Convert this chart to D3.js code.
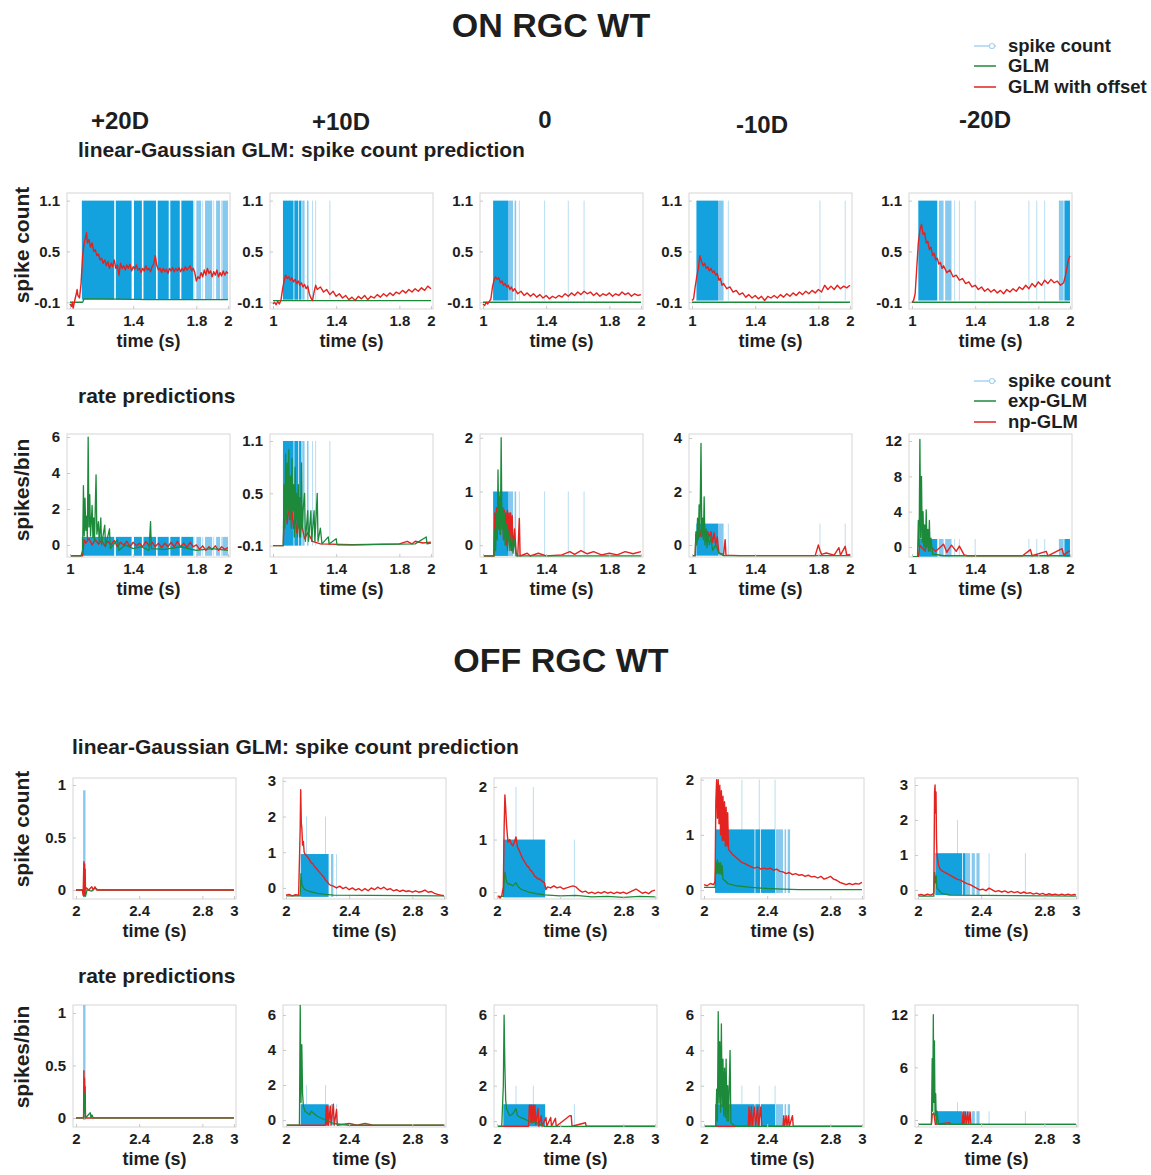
<!DOCTYPE html>
<html>
<head>
<meta charset="utf-8">
<script src="https://cdn.jsdelivr.net/npm/d3@7"></script>
<style>
  body { margin: 0; background: #fff; }
  svg text { font-family: "Liberation Sans", Arial, sans-serif; font-weight: bold; fill: #1e1e1e; }
</style>
</head>
<body>
<svg id="fig" width="1151" height="1175"></svg>
<script>
// ---------- data ----------
const conditions = ["+20D", "+10D", "0", "-10D", "-20D"];
const onXTicks = [1, 1.4, 1.8, 2];
const offXTicks = [2, 2.4, 2.8, 3];

// y extents and ticks per panel
const onCountYDomain = [[-0.18, 1.19], [-0.18, 1.19], [-0.18, 1.19], [-0.18, 1.19], [-0.18, 1.19]];
const onCountYTicks = [[-0.1, 0.5, 1.1], [-0.1, 0.5, 1.1], [-0.1, 0.5, 1.1], [-0.1, 0.5, 1.1], [-0.1, 0.5, 1.1]];
const onRateYDomain = [[-0.67, 6.17], [-0.23, 1.18], [-0.22, 2.07], [-0.45, 4.15], [-1.14, 12.8]];
const onRateYTicks = [[0, 2, 4, 6], [-0.1, 0.5, 1.1], [0, 1, 2], [0, 2, 4], [0, 4, 8, 12]];
const offCountYDomain = [[-0.086, 1.067], [-0.31, 3.08], [-0.13, 2.17], [-0.16, 2.03], [-0.26, 3.2]];
const offCountYTicks = [[0, 0.5, 1], [0, 1, 2, 3], [0, 1, 2], [0, 1, 2], [0, 1, 2, 3]];
const offRateYDomain = [[-0.086, 1.076], [-0.4, 6.57], [-0.34, 6.57], [-0.34, 6.57], [-0.8, 13.1]];
const offRateYTicks = [[0, 0.5, 1], [0, 2, 4, 6], [0, 2, 4, 6], [0, 2, 4, 6], [0, 6, 12]];

// spike count stems: dense runs [t0,t1], lighter runs, single stems, double stems [t,count]
const onSpikeBlocks = [
  [[1.075, 1.28], [1.29, 1.39], [1.405, 1.455], [1.465, 1.545], [1.555, 1.625], [1.635, 1.695], [1.705, 1.78]],
  [[1.063, 1.13], [1.135, 1.16], [1.165, 1.18]],
  [[1.064, 1.16]],
  [[1.028, 1.165]],
  [[1.04, 1.16], [1.965, 2.0]]
];
const onSpikeLight = [
  [[1.8, 1.83], [1.855, 1.9], [1.925, 1.95], [1.965, 2.0]],
  [[1.185, 1.2], [1.215, 1.225]],
  [[1.16, 1.19], [1.2, 1.21]],
  [[1.165, 1.2]],
  [[1.17, 1.2], [1.21, 1.25], [1.93, 1.96]]
];
const onSpikeLines = [
  [1.785, 1.84, 1.91, 1.96],
  [1.25, 1.27, 1.36],
  [1.23, 1.39, 1.54, 1.64],
  [1.23, 1.81, 1.97],
  [1.27, 1.3, 1.4, 1.74, 1.79, 1.84]
];
const offSpikeBlocks = [
  [],
  [[2.093, 2.27]],
  [[2.04, 2.305]],
  [[2.07, 2.32], [2.325, 2.355], [2.36, 2.45]],
  [[2.11, 2.28], [2.285, 2.3]]
];
const offSpikeLight = [
  [[2.045, 2.06]],
  [[2.285, 2.3]],
  [],
  [[2.455, 2.5], [2.51, 2.52], [2.53, 2.545]],
  [[2.3, 2.33], [2.34, 2.36], [2.37, 2.39]]
];
const offSpikeLines = [[], [2.32], [2.49], [], [2.45, 2.68]];
const offSpikeTall = [[], [[2.13, 2], [2.25, 2]], [[2.12, 2], [2.23, 2]], [[2.24, 2], [2.35, 2], [2.45, 2]], [[2.25, 2]]];

// baseline and top of the stems [lo, hi]
const onCountStem = [[-0.07, 1.1], [-0.07, 1.1], [-0.08, 1.1], [-0.08, 1.1], [-0.08, 1.1]];
const onRateStem = [[-0.6, 0.45], [-0.1, 1.1], [-0.2, 1.0], [-0.4, 0.8], [-1.1, 0.9]];
const offCountStem = [[-0.07, 0.95], [-0.25, 0.95], [-0.1, 1.0], [-0.05, 1.1], [-0.15, 1.05]];
const offRateStem = [[-0.02, 1.1], [-0.3, 0.9], [-0.3, 0.95], [-0.3, 0.95], [-0.5, 1.0]];

// ON RGC, linear-Gaussian GLM
const onCountRed = [
  [[1.0,-0.12],[1.01,-0.15],[1.015,-0.1],[1.02,-0.17],[1.03,-0.08],[1.04,0.0],[1.045,0.05],[1.05,-0.02],[1.06,-0.05],[1.07,0.12],[1.08,0.45],[1.09,0.6],[1.1,0.68],[1.105,0.72],[1.11,0.6],[1.12,0.64],[1.13,0.55],[1.14,0.6],[1.15,0.5],[1.16,0.52],[1.17,0.45],[1.18,0.47],[1.19,0.4],[1.2,0.42],[1.21,0.36],[1.22,0.4],[1.23,0.33],[1.24,0.38],[1.25,0.3],[1.26,0.36],[1.27,0.32],[1.28,0.4],[1.29,0.3],[1.3,0.34],[1.31,0.22],[1.32,0.36],[1.33,0.3],[1.34,0.33],[1.35,0.28],[1.36,0.34],[1.37,0.3],[1.38,0.35],[1.39,0.27],[1.4,0.32],[1.41,0.29],[1.42,0.34],[1.43,0.28],[1.44,0.3],[1.45,0.25],[1.46,0.3],[1.47,0.27],[1.48,0.33],[1.49,0.28],[1.5,0.3],[1.51,0.26],[1.52,0.32],[1.53,0.35],[1.54,0.45],[1.55,0.33],[1.56,0.28],[1.57,0.3],[1.58,0.25],[1.59,0.3],[1.6,0.26],[1.61,0.29],[1.62,0.24],[1.63,0.3],[1.64,0.27],[1.65,0.31],[1.66,0.26],[1.67,0.3],[1.68,0.27],[1.69,0.31],[1.7,0.26],[1.71,0.3],[1.72,0.27],[1.73,0.32],[1.74,0.28],[1.75,0.3],[1.76,0.33],[1.77,0.27],[1.78,0.3],[1.79,0.25],[1.8,0.15],[1.81,0.2],[1.82,0.18],[1.83,0.25],[1.84,0.2],[1.85,0.28],[1.86,0.22],[1.87,0.3],[1.88,0.24],[1.89,0.27],[1.9,0.2],[1.91,0.26],[1.92,0.22],[1.93,0.28],[1.94,0.2],[1.95,0.25],[1.96,0.21],[1.97,0.27],[1.98,0.22],[1.99,0.26],[2.0,0.24]],
  [[1.0,-0.12],[1.01,-0.1],[1.02,-0.13],[1.03,-0.09],[1.04,-0.12],[1.05,-0.08],[1.06,0.05],[1.07,0.15],[1.08,0.22],[1.09,0.18],[1.1,0.2],[1.11,0.16],[1.12,0.19],[1.13,0.14],[1.14,0.17],[1.15,0.12],[1.16,0.15],[1.17,0.1],[1.18,0.13],[1.19,0.08],[1.2,0.11],[1.21,0.06],[1.22,0.09],[1.23,0.0],[1.24,-0.05],[1.25,-0.08],[1.26,0.02],[1.27,0.1],[1.28,0.05],[1.3,0.08],[1.32,0.02],[1.34,0.05],[1.36,-0.01],[1.38,0.03],[1.4,-0.03],[1.42,0.0],[1.44,-0.05],[1.46,-0.02],[1.48,-0.07],[1.5,-0.04],[1.52,-0.08],[1.54,-0.03],[1.56,-0.06],[1.58,-0.02],[1.6,-0.07],[1.62,-0.03],[1.64,-0.05],[1.66,-0.01],[1.68,-0.04],[1.7,0.0],[1.72,-0.03],[1.74,0.01],[1.76,-0.02],[1.78,0.02],[1.8,0.0],[1.82,0.04],[1.84,0.01],[1.86,0.05],[1.88,0.02],[1.9,0.06],[1.92,0.03],[1.94,0.07],[1.96,0.04],[1.98,0.09],[2.0,0.06]],
  [[1.0,-0.12],[1.01,-0.14],[1.02,-0.1],[1.03,-0.12],[1.04,-0.09],[1.05,-0.06],[1.06,0.08],[1.07,0.16],[1.08,0.2],[1.09,0.17],[1.1,0.19],[1.11,0.13],[1.12,0.15],[1.13,0.1],[1.14,0.12],[1.15,0.08],[1.16,0.1],[1.17,0.05],[1.18,0.08],[1.19,0.03],[1.2,0.06],[1.22,0.0],[1.24,0.03],[1.26,-0.02],[1.28,0.01],[1.3,-0.03],[1.32,0.0],[1.34,-0.04],[1.36,-0.01],[1.38,-0.05],[1.4,-0.02],[1.42,-0.06],[1.44,-0.03],[1.46,-0.05],[1.48,-0.02],[1.5,-0.04],[1.52,0.0],[1.54,-0.03],[1.56,0.01],[1.58,-0.02],[1.6,0.02],[1.62,-0.01],[1.64,0.03],[1.66,0.0],[1.68,0.02],[1.7,-0.02],[1.72,0.01],[1.74,-0.03],[1.76,0.0],[1.78,-0.02],[1.8,0.01],[1.82,-0.03],[1.84,0.0],[1.86,-0.02],[1.88,0.02],[1.9,-0.01],[1.92,0.01],[1.94,-0.03],[1.96,0.0],[1.98,-0.02],[2.0,-0.01]],
  [[1.0,-0.08],[1.01,-0.06],[1.02,0.08],[1.03,0.2],[1.04,0.3],[1.05,0.45],[1.06,0.38],[1.07,0.33],[1.08,0.36],[1.09,0.3],[1.1,0.32],[1.11,0.27],[1.12,0.3],[1.13,0.25],[1.14,0.27],[1.15,0.22],[1.16,0.24],[1.17,0.16],[1.18,0.18],[1.19,0.1],[1.2,0.12],[1.22,0.06],[1.24,0.08],[1.26,0.02],[1.28,0.04],[1.3,-0.01],[1.32,0.01],[1.34,-0.04],[1.36,-0.01],[1.38,-0.05],[1.4,-0.02],[1.42,-0.06],[1.44,-0.03],[1.46,-0.08],[1.48,-0.03],[1.5,-0.05],[1.52,-0.02],[1.54,-0.05],[1.56,-0.01],[1.58,-0.04],[1.6,0.0],[1.62,-0.03],[1.64,0.01],[1.66,-0.02],[1.68,0.02],[1.7,-0.01],[1.72,0.03],[1.74,0.0],[1.76,0.04],[1.78,0.01],[1.8,0.05],[1.82,0.02],[1.84,0.1],[1.86,0.05],[1.88,0.09],[1.9,0.05],[1.92,0.1],[1.94,0.06],[1.96,0.09],[1.98,0.07],[2.0,0.1]],
  [[1.0,-0.1],[1.01,-0.08],[1.02,0.0],[1.03,0.3],[1.04,0.6],[1.05,0.75],[1.06,0.82],[1.07,0.7],[1.08,0.72],[1.09,0.6],[1.1,0.62],[1.11,0.52],[1.12,0.55],[1.13,0.45],[1.14,0.48],[1.15,0.4],[1.16,0.42],[1.17,0.35],[1.18,0.37],[1.19,0.3],[1.2,0.33],[1.22,0.25],[1.24,0.28],[1.26,0.2],[1.28,0.22],[1.3,0.16],[1.32,0.18],[1.34,0.12],[1.36,0.14],[1.38,0.08],[1.4,0.1],[1.42,0.05],[1.44,0.08],[1.46,0.03],[1.48,0.06],[1.5,0.02],[1.52,0.05],[1.54,0.01],[1.56,0.04],[1.58,0.0],[1.6,0.05],[1.62,0.02],[1.64,0.06],[1.66,0.03],[1.68,0.08],[1.7,0.05],[1.72,0.1],[1.74,0.06],[1.76,0.12],[1.78,0.08],[1.8,0.14],[1.82,0.1],[1.84,0.16],[1.86,0.12],[1.88,0.17],[1.9,0.13],[1.92,0.15],[1.94,0.1],[1.96,0.13],[1.97,0.2],[1.98,0.3],[1.99,0.4],[2.0,0.45]]
];
const onCountGreen = [
  [[1.0,-0.1],[1.08,-0.1],[1.09,-0.06],[1.2,-0.06],[1.5,-0.07],[2.0,-0.07]],
  [[1.0,-0.08],[2.0,-0.08]],
  [[1.0,-0.1],[2.0,-0.1]],
  [[1.0,-0.1],[2.0,-0.1]],
  [[1.0,-0.1],[2.0,-0.1]]
];

// ON RGC, rate predictions
const onRateGreen = [
  [[1.0,-0.6],[1.07,-0.6],[1.08,-0.3],[1.085,3.3],[1.09,0.5],[1.095,2.6],[1.1,0.8],[1.105,1.6],[1.11,0.3],[1.115,6.0],[1.12,1.0],[1.125,2.8],[1.13,0.5],[1.14,2.2],[1.145,0.4],[1.15,1.5],[1.155,0.2],[1.165,3.9],[1.17,0.6],[1.18,1.3],[1.185,0.1],[1.195,1.5],[1.2,0.0],[1.22,1.1],[1.225,-0.1],[1.25,0.9],[1.255,-0.2],[1.3,0.3],[1.31,-0.3],[1.35,0.0],[1.4,-0.2],[1.45,-0.1],[1.5,-0.3],[1.51,1.3],[1.515,-0.2],[1.6,-0.25],[1.7,-0.1],[1.8,-0.3],[1.9,-0.2],[2.0,-0.3]],
  [[1.0,-0.1],[1.065,-0.1],[1.07,0.6],[1.075,0.1],[1.08,0.95],[1.085,0.2],[1.09,0.85],[1.095,0.3],[1.1,1.0],[1.105,0.2],[1.11,0.7],[1.115,0.1],[1.12,0.9],[1.125,0.3],[1.13,0.6],[1.135,0.0],[1.14,0.8],[1.145,0.2],[1.15,0.5],[1.155,0.0],[1.16,0.6],[1.165,0.1],[1.17,0.45],[1.175,0.0],[1.18,0.85],[1.185,0.1],[1.19,0.3],[1.2,0.5],[1.205,-0.05],[1.22,0.3],[1.225,-0.05],[1.24,0.3],[1.245,-0.05],[1.26,0.3],[1.265,-0.05],[1.28,0.5],[1.285,-0.05],[1.3,0.1],[1.31,-0.08],[1.35,0.0],[1.355,-0.08],[1.4,-0.02],[1.405,-0.09],[1.5,-0.09],[1.9,-0.08],[1.97,0.0],[1.975,-0.08],[2.0,-0.07]],
  [[1.0,-0.2],[1.07,-0.2],[1.075,0.3],[1.08,-0.1],[1.085,0.6],[1.09,0.1],[1.095,1.4],[1.1,0.3],[1.105,0.9],[1.11,0.2],[1.115,2.0],[1.12,0.3],[1.125,0.7],[1.13,0.1],[1.135,0.6],[1.14,0.0],[1.15,0.4],[1.155,-0.1],[1.165,0.3],[1.17,-0.1],[1.18,0.2],[1.19,-0.15],[1.2,0.1],[1.21,-0.2],[1.3,-0.2],[2.0,-0.2]],
  [[1.0,-0.4],[1.02,-0.4],[1.025,0.5],[1.03,0.0],[1.035,1.0],[1.04,0.2],[1.045,1.5],[1.05,0.4],[1.057,3.8],[1.062,0.3],[1.067,1.0],[1.072,0.2],[1.077,1.8],[1.082,0.0],[1.09,0.6],[1.095,-0.1],[1.1,0.4],[1.11,0.0],[1.12,0.3],[1.13,-0.2],[1.15,0.0],[1.17,-0.3],[1.2,-0.4],[2.0,-0.4]],
  [[1.0,-1.1],[1.035,-1.1],[1.04,3.0],[1.045,0.0],[1.05,12.2],[1.055,1.0],[1.06,8.0],[1.065,0.5],[1.07,4.0],[1.075,0.0],[1.08,2.5],[1.085,-0.5],[1.09,4.2],[1.095,0.0],[1.1,2.0],[1.105,-0.5],[1.11,3.0],[1.115,-0.5],[1.12,1.0],[1.13,-0.8],[1.2,-1.0],[2.0,-1.0]]
];
const onRateRed = [
  [[1.0,-0.6],[1.08,-0.6],[1.09,0.3],[1.1,0.1],[1.12,0.35],[1.14,0.0],[1.16,0.3],[1.18,0.05],[1.2,0.25],[1.22,-0.05],[1.24,0.2],[1.26,0.0],[1.28,0.25],[1.3,-0.1],[1.32,0.15],[1.34,0.0],[1.36,0.2],[1.38,-0.1],[1.4,0.15],[1.42,-0.05],[1.44,0.1],[1.46,-0.1],[1.48,0.2],[1.5,-0.05],[1.52,0.15],[1.54,-0.1],[1.56,0.1],[1.58,-0.15],[1.6,0.1],[1.62,-0.1],[1.64,0.15],[1.66,-0.1],[1.68,0.2],[1.7,-0.1],[1.72,0.1],[1.74,-0.15],[1.76,0.15],[1.78,-0.1],[1.8,0.0],[1.82,-0.25],[1.84,-0.05],[1.86,-0.3],[1.88,-0.1],[1.9,-0.25],[1.92,-0.05],[1.94,-0.3],[1.96,-0.1],[1.98,-0.25],[2.0,-0.15]],
  [[1.0,-0.1],[1.065,-0.1],[1.07,0.2],[1.08,0.4],[1.09,0.15],[1.1,0.35],[1.11,0.2],[1.12,0.3],[1.13,0.1],[1.14,0.25],[1.15,0.05],[1.16,0.2],[1.17,0.0],[1.18,0.15],[1.2,-0.02],[1.22,0.05],[1.25,-0.05],[1.3,-0.08],[1.5,-0.09],[1.8,-0.08],[1.85,-0.05],[1.88,-0.08],[1.9,-0.05],[1.95,-0.07],[2.0,-0.06]],
  [[1.0,-0.2],[1.07,-0.2],[1.075,0.6],[1.08,0.1],[1.085,0.7],[1.09,0.2],[1.095,0.8],[1.1,0.3],[1.105,0.75],[1.11,0.2],[1.115,0.8],[1.12,0.4],[1.125,0.7],[1.13,0.1],[1.135,0.65],[1.14,0.2],[1.145,0.6],[1.15,0.0],[1.155,0.65],[1.16,0.1],[1.165,0.6],[1.17,0.0],[1.175,0.6],[1.18,-0.1],[1.185,0.55],[1.19,-0.1],[1.2,0.3],[1.21,-0.15],[1.22,-0.2],[1.23,0.5],[1.235,-0.2],[1.28,-0.15],[1.3,-0.2],[1.35,-0.15],[1.4,-0.2],[1.5,-0.18],[1.55,-0.12],[1.58,-0.17],[1.62,-0.1],[1.66,-0.16],[1.7,-0.12],[1.75,-0.18],[1.8,-0.15],[1.85,-0.18],[1.9,-0.12],[1.95,-0.16],[2.0,-0.12]],
  [[1.0,-0.4],[1.02,-0.4],[1.025,0.4],[1.03,0.1],[1.04,0.55],[1.05,0.3],[1.06,0.6],[1.07,0.4],[1.08,0.55],[1.09,0.2],[1.1,0.5],[1.11,0.3],[1.12,0.5],[1.13,0.1],[1.14,0.45],[1.15,0.0],[1.16,0.3],[1.17,-0.3],[1.2,-0.35],[1.21,0.2],[1.215,-0.38],[1.3,-0.4],[1.78,-0.4],[1.8,0.0],[1.81,-0.2],[1.82,-0.35],[1.85,-0.3],[1.9,-0.38],[1.93,-0.1],[1.94,-0.38],[1.97,-0.05],[1.98,-0.38],[2.0,-0.35]],
  [[1.0,-1.1],[1.04,-1.1],[1.05,0.2],[1.08,-0.4],[1.1,0.3],[1.15,-0.5],[1.2,0.3],[1.22,-0.6],[1.25,0.2],[1.28,-0.5],[1.3,0.1],[1.33,-0.9],[1.35,-1.0],[1.7,-1.0],[1.75,-0.3],[1.76,-1.0],[1.85,-0.5],[1.86,-1.0],[1.95,-0.2],[1.96,-0.9],[2.0,-0.4]]
];

// OFF RGC, linear-Gaussian GLM
const offCountRed = [
  [[2.0,0.0],[2.04,0.0],[2.045,-0.05],[2.05,0.27],[2.052,0.0],[2.054,0.25],[2.056,-0.05],[2.058,0.2],[2.06,0.0],[2.065,0.02],[2.08,0.0],[2.1,0.03],[2.11,0.0],[2.12,0.03],[2.13,0.0],[3.0,0.0]],
  [[2.0,-0.2],[2.02,-0.18],[2.04,-0.22],[2.06,-0.19],[2.08,-0.2],[2.09,1.7],[2.093,2.75],[2.097,1.8],[2.1,1.7],[2.105,1.2],[2.11,1.3],[2.115,1.0],[2.12,0.95],[2.13,0.9],[2.14,0.85],[2.15,0.78],[2.16,0.7],[2.17,0.68],[2.18,0.6],[2.19,0.56],[2.2,0.5],[2.21,0.45],[2.22,0.4],[2.23,0.35],[2.24,0.3],[2.25,0.22],[2.26,0.18],[2.27,0.12],[2.28,0.08],[2.3,0.05],[2.32,0.0],[2.34,0.05],[2.36,-0.02],[2.38,0.02],[2.4,-0.05],[2.42,0.0],[2.44,-0.06],[2.46,-0.02],[2.48,-0.08],[2.5,-0.02],[2.52,-0.08],[2.54,0.0],[2.56,-0.05],[2.58,0.02],[2.6,-0.03],[2.62,0.02],[2.64,-0.05],[2.66,-0.02],[2.68,-0.08],[2.7,-0.05],[2.72,-0.1],[2.74,-0.06],[2.76,-0.1],[2.78,-0.08],[2.8,-0.12],[2.82,-0.08],[2.84,-0.12],[2.86,-0.1],[2.88,-0.06],[2.9,-0.12],[2.92,-0.1],[2.94,-0.15],[2.96,-0.18],[2.98,-0.2],[3.0,-0.22]],
  [[2.0,-0.1],[2.01,-0.08],[2.02,-0.11],[2.03,-0.07],[2.04,0.1],[2.045,1.2],[2.05,1.85],[2.055,1.6],[2.06,1.3],[2.065,1.1],[2.07,0.95],[2.08,1.0],[2.09,0.92],[2.1,0.88],[2.11,0.95],[2.12,1.05],[2.13,0.85],[2.14,0.8],[2.15,0.72],[2.16,0.65],[2.17,0.6],[2.18,0.55],[2.19,0.5],[2.2,0.48],[2.21,0.42],[2.22,0.4],[2.23,0.35],[2.24,0.3],[2.25,0.28],[2.26,0.25],[2.27,0.25],[2.28,0.22],[2.29,0.2],[2.3,0.18],[2.31,0.05],[2.32,0.1],[2.34,0.08],[2.36,0.12],[2.38,0.08],[2.4,0.1],[2.42,0.06],[2.44,0.08],[2.46,0.1],[2.48,0.12],[2.5,0.1],[2.52,0.04],[2.54,0.0],[2.56,0.02],[2.58,-0.02],[2.6,0.0],[2.62,-0.03],[2.64,0.0],[2.66,-0.02],[2.68,0.01],[2.7,-0.02],[2.72,0.0],[2.74,-0.03],[2.76,0.0],[2.78,-0.02],[2.8,0.0],[2.82,-0.03],[2.84,0.0],[2.86,0.03],[2.88,0.06],[2.9,0.02],[2.92,-0.02],[2.94,0.0],[2.96,-0.03],[2.98,0.02],[3.0,0.04]],
  [[2.0,0.1],[2.02,0.08],[2.04,0.12],[2.06,0.1],[2.07,0.15],[2.075,1.6],[2.08,2.0],[2.085,1.3],[2.09,2.0],[2.095,1.2],[2.1,1.9],[2.105,1.0],[2.11,1.8],[2.115,0.9],[2.12,1.7],[2.125,0.9],[2.13,1.6],[2.135,0.8],[2.14,1.5],[2.145,0.8],[2.15,1.4],[2.155,0.75],[2.16,0.72],[2.18,0.65],[2.2,0.6],[2.22,0.55],[2.24,0.5],[2.26,0.48],[2.28,0.45],[2.3,0.42],[2.32,0.4],[2.34,0.42],[2.36,0.38],[2.38,0.4],[2.4,0.38],[2.42,0.4],[2.44,0.36],[2.46,0.38],[2.48,0.34],[2.5,0.33],[2.52,0.3],[2.54,0.32],[2.56,0.28],[2.58,0.3],[2.6,0.27],[2.62,0.28],[2.64,0.25],[2.66,0.27],[2.68,0.24],[2.7,0.25],[2.72,0.22],[2.74,0.25],[2.76,0.2],[2.78,0.22],[2.8,0.25],[2.82,0.2],[2.84,0.18],[2.86,0.14],[2.88,0.12],[2.9,0.1],[2.92,0.12],[2.94,0.1],[2.96,0.12],[2.98,0.11],[3.0,0.14]],
  [[2.0,-0.15],[2.02,-0.13],[2.04,-0.16],[2.06,-0.12],[2.08,-0.15],[2.1,-0.1],[2.105,2.8],[2.108,3.0],[2.111,2.2],[2.114,2.8],[2.117,1.5],[2.12,1.0],[2.13,0.7],[2.14,0.6],[2.15,0.55],[2.17,0.5],[2.19,0.45],[2.21,0.4],[2.23,0.35],[2.25,0.3],[2.27,0.28],[2.29,0.22],[2.31,0.18],[2.33,0.15],[2.35,0.1],[2.37,0.05],[2.39,0.0],[2.41,0.02],[2.43,-0.02],[2.45,0.05],[2.47,0.0],[2.49,-0.05],[2.51,-0.02],[2.53,-0.06],[2.55,-0.03],[2.57,-0.08],[2.59,-0.04],[2.61,-0.08],[2.63,-0.05],[2.65,-0.1],[2.67,-0.06],[2.69,-0.1],[2.71,-0.08],[2.73,-0.12],[2.75,-0.09],[2.77,-0.13],[2.79,-0.1],[2.81,-0.14],[2.83,-0.11],[2.85,-0.14],[2.87,-0.12],[2.89,-0.15],[2.91,-0.12],[2.93,-0.15],[2.95,-0.12],[2.97,-0.15],[2.99,-0.13],[3.0,-0.15]]
];
const offCountGreen = [
  [[2.0,0.0],[2.045,0.0],[2.05,-0.06],[2.055,0.02],[2.06,-0.06],[2.07,0.0],[2.1,-0.01],[2.12,0.02],[2.14,0.0],[3.0,0.0]],
  [[2.0,-0.22],[2.09,-0.22],[2.095,0.4],[2.1,0.1],[2.11,0.0],[2.12,-0.05],[2.15,-0.1],[2.2,-0.15],[2.25,-0.18],[2.3,-0.2],[3.0,-0.22]],
  [[2.0,-0.08],[2.04,-0.08],[2.045,0.2],[2.05,0.38],[2.06,0.2],[2.07,0.15],[2.08,0.16],[2.1,0.12],[2.12,0.18],[2.13,0.12],[2.15,0.06],[2.2,0.0],[2.25,-0.03],[2.3,-0.05],[2.4,-0.07],[2.5,-0.06],[2.6,-0.09],[2.7,-0.08],[2.8,-0.1],[2.9,-0.08],[3.0,-0.09]],
  [[2.0,0.05],[2.07,0.05],[2.075,0.5],[2.08,0.3],[2.085,0.55],[2.09,0.3],[2.095,0.5],[2.1,0.3],[2.105,0.5],[2.11,0.28],[2.115,0.45],[2.12,0.2],[2.13,0.18],[2.15,0.12],[2.2,0.08],[2.3,0.05],[2.4,0.03],[2.5,0.02],[2.6,0.01],[3.0,0.01]],
  [[2.0,-0.18],[2.1,-0.18],[2.105,0.5],[2.11,0.2],[2.115,0.4],[2.12,0.05],[2.15,-0.1],[2.2,-0.15],[3.0,-0.18]]
];

// OFF RGC, rate predictions
const offRateGreen = [
  [[2.0,0],[2.048,0],[2.05,0.24],[2.052,0.05],[2.054,0.23],[2.056,0.1],[2.058,0.22],[2.06,0.0],[2.09,0.05],[2.095,0.0],[2.1,0.03],[2.11,0.0],[3.0,0]],
  [[2.0,-0.3],[2.085,-0.3],[2.09,6.6],[2.095,1.0],[2.1,4.3],[2.105,1.5],[2.11,0.8],[2.12,0.5],[2.15,0.3],[2.16,0.5],[2.2,0.2],[2.25,0.0],[2.3,-0.2],[2.4,-0.3],[3.0,-0.3]],
  [[2.0,-0.3],[2.03,-0.3],[2.04,2.0],[2.045,6.0],[2.05,3.0],[2.055,1.2],[2.06,0.7],[2.08,0.3],[2.1,0.4],[2.12,0.7],[2.13,0.3],[2.15,0.2],[2.2,0.0],[2.25,-0.1],[2.3,-0.3],[3.0,-0.3]],
  [[2.0,-0.3],[2.075,-0.3],[2.08,1.8],[2.085,0.0],[2.09,6.2],[2.095,1.0],[2.1,4.5],[2.105,0.5],[2.11,5.5],[2.115,0.8],[2.12,3.5],[2.125,0.3],[2.13,3.0],[2.135,0.2],[2.14,3.5],[2.145,0.0],[2.15,2.0],[2.155,0.0],[2.165,4.0],[2.17,-0.1],[2.2,-0.3],[3.0,-0.3]],
  [[2.0,-0.5],[2.085,-0.5],[2.09,7.0],[2.093,1.0],[2.097,12.0],[2.1,2.0],[2.104,9.0],[2.108,0.5],[2.112,3.0],[2.116,-0.3],[2.12,1.0],[2.13,-0.5],[3.0,-0.5]]
];
const offRateRed = [
  [[2.0,0],[2.048,0],[2.05,0.45],[2.052,0.1],[2.054,0.38],[2.056,0.2],[2.058,0.3],[2.06,0.0],[3.0,0]],
  [[2.0,-0.3],[2.25,-0.3],[2.255,0.8],[2.26,-0.3],[2.265,0.8],[2.27,-0.3],[2.28,0.8],[2.285,-0.3],[2.3,0.9],[2.305,-0.3],[2.32,0.6],[2.325,-0.3],[2.4,-0.2],[2.45,-0.3],[2.5,-0.2],[2.55,-0.3],[3.0,-0.3]],
  [[2.0,-0.3],[2.2,-0.3],[2.205,0.9],[2.21,0.9],[2.215,-0.1],[2.22,0.9],[2.225,-0.1],[2.23,0.9],[2.235,0.0],[2.24,0.9],[2.245,-0.2],[2.26,0.7],[2.265,-0.3],[2.28,0.3],[2.285,-0.3],[2.31,0.2],[2.315,-0.3],[2.34,0.2],[2.345,-0.3],[2.37,0.15],[2.375,-0.3],[2.46,0.3],[2.47,0.3],[2.475,-0.3],[2.56,-0.1],[2.565,-0.3],[3.0,-0.3]],
  [[2.0,-0.3],[2.28,-0.3],[2.285,0.8],[2.29,-0.3],[2.3,0.8],[2.305,-0.3],[2.32,0.8],[2.325,-0.3],[2.34,0.8],[2.345,-0.3],[2.36,0.8],[2.365,-0.3],[2.5,-0.3],[2.505,0.3],[2.51,-0.3],[2.52,0.3],[2.525,-0.3],[2.535,0.3],[2.54,-0.3],[2.56,0.3],[2.565,-0.3],[3.0,-0.3]],
  [[2.0,-0.5],[2.085,-0.5],[2.09,0.6],[2.1,0.8],[2.11,-0.5],[2.2,-0.3],[2.21,-0.5],[2.28,-0.5],[2.285,0.9],[2.29,-0.5],[2.3,0.9],[2.305,-0.5],[2.315,0.9],[2.32,-0.5],[2.33,0.9],[2.335,-0.5],[3.0,-0.5]]
];

const legendCount = ["spike count", "GLM", "GLM with offset"];
const legendRate = ["spike count", "exp-GLM", "np-GLM"];

// ---------- layout ----------
const C = { blue: "#14a2de", light: "#86c9ee", faint: "#b8def3", red: "#e2231f", green: "#1c8a3a", frame: "#d6d6d6" };
const panelW = 163;
const onLefts = [67, 270, 480, 689, 909];
const offLefts = [73, 283, 494, 701, 915];
const rows = [
  { top: 193, bottom: 309, lefts: onLefts, xDom: [0.981, 2.013], xTicks: onXTicks, yDom: onCountYDomain, yTicks: onCountYTicks,
    stem: onCountStem, blocks: onSpikeBlocks, light: onSpikeLight, lines: onSpikeLines, tall: null, red: onCountRed, green: onCountGreen, redTop: true },
  { top: 434, bottom: 557, lefts: onLefts, xDom: [0.981, 2.013], xTicks: onXTicks, yDom: onRateYDomain, yTicks: onRateYTicks,
    stem: onRateStem, blocks: onSpikeBlocks, light: onSpikeLight, lines: onSpikeLines, tall: null, red: onRateRed, green: onRateGreen, redTop: false },
  { top: 778, bottom: 899, lefts: offLefts, xDom: [1.981, 3.013], xTicks: offXTicks, yDom: offCountYDomain, yTicks: offCountYTicks,
    stem: offCountStem, blocks: offSpikeBlocks, light: offSpikeLight, lines: offSpikeLines, tall: offSpikeTall, red: offCountRed, green: offCountGreen, redTop: true },
  { top: 1005, bottom: 1127, lefts: offLefts, xDom: [1.981, 3.013], xTicks: offXTicks, yDom: offRateYDomain, yTicks: offRateYTicks,
    stem: offRateStem, blocks: offSpikeBlocks, light: offSpikeLight, lines: offSpikeLines, tall: offSpikeTall, red: offRateRed, green: offRateGreen, redTop: false }
];

const svg = d3.select("#fig");
const fmt = d => String(d);

rows.forEach((row, ri) => {
  conditions.forEach((cond, ci) => {
    const x0 = row.lefts[ci];
    const x = d3.scaleLinear().domain(row.xDom).range([x0, x0 + panelW]);
    const y = d3.scaleLinear().domain(row.yDom[ci]).range([row.bottom, row.top]);
    const g = svg.append("g");
    const clipId = "clip" + ri + "_" + ci;
    g.append("clipPath").attr("id", clipId).append("rect")
      .attr("x", x0).attr("y", row.top).attr("width", panelW).attr("height", row.bottom - row.top);

    g.append("rect").attr("x", x0).attr("y", row.top).attr("width", panelW).attr("height", row.bottom - row.top)
      .attr("fill", "#fff").attr("stroke", C.frame).attr("stroke-width", 1);

    const plot = g.append("g").attr("clip-path", "url(#" + clipId + ")");
    const [lo, hi] = row.stem[ci];

    // spike count stems
    plot.selectAll(".faint").data(row.lines[ci]).join("line").attr("class", "faint")
      .attr("x1", d => x(d)).attr("x2", d => x(d)).attr("y1", y(lo)).attr("y2", y(hi))
      .attr("stroke", C.faint).attr("stroke-width", 1);
    if (row.tall) {
      plot.selectAll(".tall").data(row.tall[ci]).join("line").attr("class", "tall")
        .attr("x1", d => x(d[0])).attr("x2", d => x(d[0])).attr("y1", y(lo)).attr("y2", d => y(d[1]))
        .attr("stroke", C.faint).attr("stroke-width", 1);
    }
    plot.selectAll(".light").data(row.light[ci]).join("rect").attr("class", "light")
      .attr("x", d => x(d[0])).attr("width", d => Math.max(1, x(d[1]) - x(d[0])))
      .attr("y", y(hi)).attr("height", y(lo) - y(hi)).attr("fill", C.light);
    plot.selectAll(".dense").data(row.blocks[ci]).join("rect").attr("class", "dense")
      .attr("x", d => x(d[0])).attr("width", d => Math.max(1, x(d[1]) - x(d[0])))
      .attr("y", y(hi)).attr("height", y(lo) - y(hi)).attr("fill", C.blue);

    const line = d3.line().x(d => x(d[0])).y(d => y(d[1]));
    const order = row.redTop ? [["green", row.green[ci]], ["red", row.red[ci]]] : [["red", row.red[ci]], ["green", row.green[ci]]];
    order.forEach(([k, pts]) => {
      plot.append("path").attr("d", line(pts)).attr("fill", "none")
        .attr("stroke", C[k]).attr("stroke-width", k === "red" ? 1.4 : 1.3).attr("stroke-linejoin", "round");
    });

    // axes
    const xa = g.append("g").attr("transform", "translate(0," + row.bottom + ")")
      .call(d3.axisBottom(x).tickValues(row.xTicks).tickFormat(fmt).tickSizeInner(-3).tickSizeOuter(0).tickPadding(6));
    const ya = g.append("g").attr("transform", "translate(" + x0 + ",0)")
      .call(d3.axisLeft(y).tickValues(row.yTicks[ci]).tickFormat(fmt).tickSizeInner(-3).tickSizeOuter(0).tickPadding(7));
    [xa, ya].forEach(a => {
      a.select(".domain").remove();
      a.selectAll(".tick line").attr("stroke", "#c8c8c8");
      a.selectAll(".tick text").attr("font-size", 15).attr("fill", "#1e1e1e");
    });

    g.append("text").attr("x", x0 + panelW / 2).attr("y", row.bottom + 38)
      .attr("text-anchor", "middle").attr("font-size", 18).text("time (s)");
  });
});

// row labels
[["spike count", 245], ["spikes/bin", 490], ["spike count", 829], ["spikes/bin", 1057]].forEach(([t, cy]) => {
  svg.append("text").attr("transform", "translate(29," + cy + ") rotate(-90)")
    .attr("text-anchor", "middle").attr("font-size", 21).text(t);
});

// titles
svg.append("text").attr("x", 551).attr("y", 37).attr("text-anchor", "middle").attr("font-size", 34).text("ON RGC WT");
svg.append("text").attr("x", 561).attr("y", 672).attr("text-anchor", "middle").attr("font-size", 34).text("OFF RGC WT");
const colTitleX = [120, 341, 545, 762, 985];
const colTitleY = [129, 130, 128, 133, 128];
conditions.forEach((c, i) => {
  svg.append("text").attr("x", colTitleX[i]).attr("y", colTitleY[i]).attr("text-anchor", "middle").attr("font-size", 24).text(c);
});
svg.append("text").attr("x", 78).attr("y", 157).attr("font-size", 21).text("linear-Gaussian GLM: spike count prediction");
svg.append("text").attr("x", 78).attr("y", 403).attr("font-size", 21).text("rate predictions");
svg.append("text").attr("x", 72).attr("y", 754).attr("font-size", 21).text("linear-Gaussian GLM: spike count prediction");
svg.append("text").attr("x", 78).attr("y", 983).attr("font-size", 21).text("rate predictions");

// legends
function legend(labels, ys) {
  const cols = ["#a7d3f0", C.green, C.red];
  labels.forEach((l, i) => {
    svg.append("line").attr("x1", 974).attr("x2", 996).attr("y1", ys[i]).attr("y2", ys[i])
      .attr("stroke", cols[i]).attr("stroke-width", 1.5);
    if (i === 0) {
      svg.append("circle").attr("cx", 992).attr("cy", ys[i]).attr("r", 2.5)
        .attr("fill", "#fff").attr("stroke", cols[i]).attr("stroke-width", 1.2);
    }
    svg.append("text").attr("x", 1008).attr("y", ys[i] + 6).attr("font-size", 18.5).text(l);
  });
}
legend(legendCount, [46, 66, 87]);
legend(legendRate, [381, 401, 422]);
</script>
</body>
</html>
